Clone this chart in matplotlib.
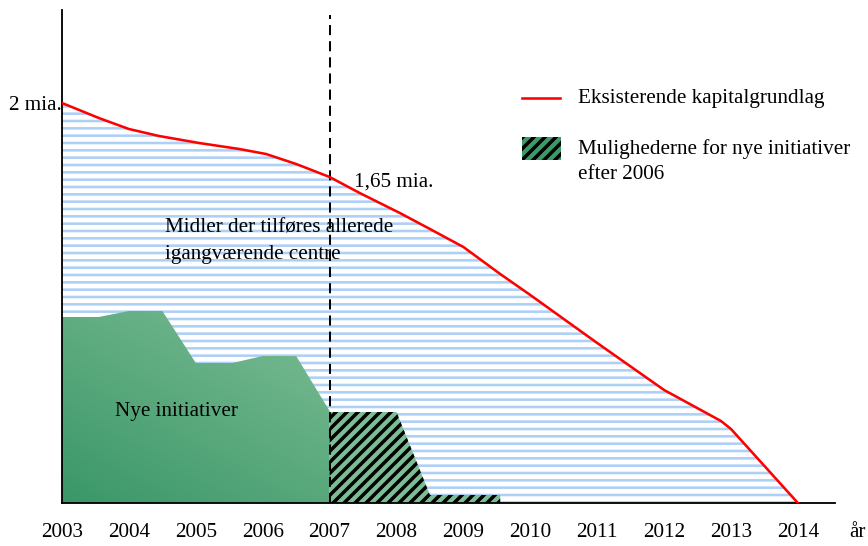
import matplotlib.pyplot as plt
import numpy as np
from matplotlib.patches import Polygon, Rectangle
from matplotlib.colors import LinearSegmentedColormap

plt.rcParams['font.family'] = ['Liberation Serif', 'DejaVu Serif']

# Eksisterende kapitalgrundlag (mia.)
cap_years = [2003, 2003.55, 2004, 2004.45, 2005.05, 2005.65, 2006.05, 2006.5, 2007,
             2007.45, 2008.05, 2008.5, 2009, 2009.55, 2010, 2011, 2012, 2012.85, 2013, 2014]
cap_values = [2.0, 1.925, 1.87, 1.835, 1.80, 1.77, 1.745, 1.695, 1.63,
              1.55, 1.45, 1.37, 1.28, 1.145, 1.04, 0.80, 0.565, 0.41, 0.37, 0.0]

# Nye initiativer (frem til 2007)
new_years = [2003, 2003.55, 2004, 2004.5, 2005, 2005.55, 2006, 2006.5, 2007]
new_values = [0.93, 0.93, 0.96, 0.96, 0.70, 0.70, 0.735, 0.735, 0.46]

# Mulighederne for nye initiativer efter 2006
opp_years = [2007, 2008, 2008.5, 2009.55]
opp_values = [0.455, 0.455, 0.04, 0.04]

year_ticks = list(range(2003, 2015))
year_labels = [str(y) for y in year_ticks]

DPI = 132
fig = plt.figure(figsize=(868 / DPI, 546 / DPI), dpi=DPI)
ax = fig.add_axes([62 / 868, 1 - 503 / 546, 773 / 868, 493 / 546])
ax.set_xlim(2003, 2003 + 773 / 66.9)
ax.set_ylim(0, 493 / 200)

fs = 11.5


def hatch_lw(artist, lw):
    if hasattr(artist, 'set_hatch_linewidth'):
        artist.set_hatch_linewidth(lw)


# blue striped area under the capital line
stripes = ax.fill_between(cap_years, cap_values, 0, facecolor='white',
                          edgecolor='#add0f6', hatch='---', linewidth=0, zorder=1)
hatch_lw(stripes, 1.4)

# green gradient area
verts = [(new_years[0], 0)] + list(zip(new_years, new_values)) + [(new_years[-1], 0)]
poly = Polygon(verts, closed=True, facecolor='none', edgecolor='none')
ax.add_patch(poly)
cmap = LinearSegmentedColormap.from_list('grn', ['#3a9767', '#7fbe97'])
gx, gy = np.meshgrid(np.linspace(0, 1, 200), np.linspace(0, 1, 200))
grad = (gx * 0.55 + gy * 0.75) / 1.3
img = ax.imshow(grad, cmap=cmap, origin='lower', extent=[2003, 2007, 0, 1.0],
                aspect='auto', interpolation='bilinear', zorder=2)
img.set_clip_path(poly)

# hatched opportunity area
opp = ax.fill_between(opp_years, opp_values, 0, facecolor='#7cbd96',
                      edgecolor='black', hatch='////', linewidth=0, zorder=2)
hatch_lw(opp, 1.9)

# dashed line at 2007
ax.axvline(2007, ymin=0, ymax=(503 - 15) / 493, color='black', lw=1.1,
           linestyle=(0, (5, 3)), zorder=3)

# capital line
ax.plot(cap_years, cap_values, color='red', lw=1.4, zorder=4)

# axes styling
for s in ['top', 'right']:
    ax.spines[s].set_visible(False)
ax.spines['left'].set_linewidth(1.0)
ax.spines['bottom'].set_linewidth(1.0)
ax.set_xticks(year_ticks)
ax.set_xticklabels(year_labels, fontsize=fs)
ax.set_yticks([2.0])
ax.set_yticklabels(['2 mia.'], fontsize=fs)
ax.tick_params(axis='x', length=0, pad=11)
ax.tick_params(axis='y', length=0, pad=0)
ax.annotate('år', xy=(2014.89, 0), xycoords=('data', 'axes fraction'),
            xytext=(0, -11), textcoords='offset points', ha='center', va='top',
            fontsize=fs, annotation_clip=False)

# annotations
ax.text(2007.36, 1.605, '1,65 mia.', fontsize=fs, ha='left', va='center', zorder=5)
ax.text(2004.54, 1.31, 'Midler der tilføres allerede\nigangværende centre',
        fontsize=fs, ha='left', va='center', linespacing=1.55, zorder=5)
ax.text(2003.79, 0.455, 'Nye initiativer', fontsize=fs, ha='left', va='center', zorder=5)

# legend (manual)
ax.plot([0.595, 0.6442], [0.8215, 0.8215], transform=ax.transAxes, color='red',
        lw=1.4, clip_on=False)
ax.text(0.6675, 0.8215, 'Eksisterende kapitalgrundlag', transform=ax.transAxes,
        fontsize=fs, ha='left', va='center')
leg_patch = Rectangle((0.595, 0.6957), 0.0505, 0.0467, transform=ax.transAxes,
                      facecolor='#3c9a68', edgecolor='black', hatch='////', linewidth=0)
ax.add_patch(leg_patch)
hatch_lw(leg_patch, 1.9)
ax.text(0.6675, 0.6927, 'Mulighederne for nye initiativer\nefter 2006',
        transform=ax.transAxes, fontsize=fs, ha='left', va='center', linespacing=1.4)

fig.savefig('out.png', dpi=DPI)
